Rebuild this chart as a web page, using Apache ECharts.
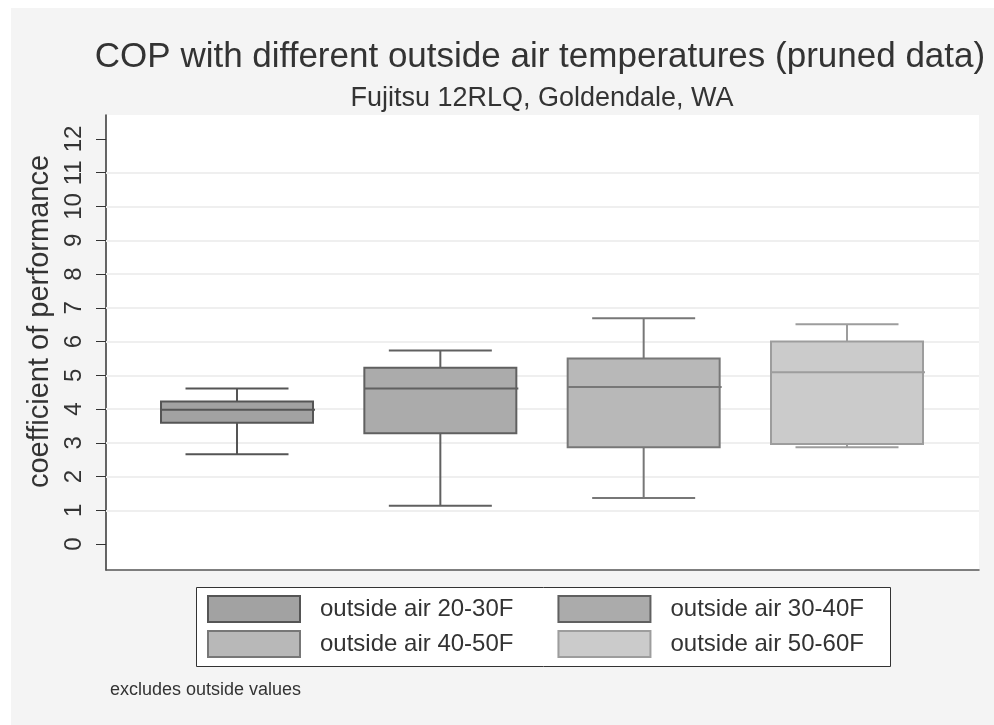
<!DOCTYPE html>
<html>
<head>
<meta charset="utf-8">
<script src="https://cdn.jsdelivr.net/npm/echarts@6/dist/echarts.min.js"></script>
<style>
html,body{margin:0;padding:0;background:#fff;}
#chart{width:994px;height:725px;}
</style>
</head>
<body>
<div id="chart"></div>
<script>
// ---- data ----
const categories = ['outside air 20-30F', 'outside air 30-40F', 'outside air 40-50F', 'outside air 50-60F'];
const lowerWhisker = [2.66, 1.13, 1.36, 2.87];
const lowerQuartile = [3.59, 3.28, 2.87, 2.96];
const medianValues = [3.98, 4.61, 4.65, 5.09];
const upperQuartile = [4.22, 5.22, 5.50, 6.00];
const upperWhisker = [4.61, 5.73, 6.69, 6.51];
const yTickValues = [0, 1, 2, 3, 4, 5, 6, 7, 8, 9, 10, 11, 12];
const gridValues = [1, 2, 3, 4, 5, 6, 7, 8, 9, 10, 11];

// ---- styles ----
const fills = ['#a2a2a2', '#ababab', '#b8b8b8', '#cbcbcb'];
const strokes = ['#555555', '#606060', '#777777', '#9d9d9d'];
const FONT = 'Liberation Sans, Arial, sans-serif';

const chart = echarts.init(document.getElementById('chart'), null, {renderer: 'canvas'});

function makeRender(idx) {
  return function (params, api) {
    const x = api.value(0);
    const lw = api.coord([x, api.value(1)]);
    const q1 = api.coord([x, api.value(2)]);
    const md = api.coord([x, api.value(3)]);
    const q3 = api.coord([x, api.value(4)]);
    const uw = api.coord([x, api.value(5)]);
    const cx = lw[0];
    const half = 76, cap = 51.5;
    const ls = {stroke: strokes[idx], lineWidth: 2, fill: null};
    return {
      type: 'group',
      children: [
        {type: 'line', shape: {x1: cx, y1: uw[1], x2: cx, y2: q3[1]}, style: ls},
        {type: 'line', shape: {x1: cx, y1: q1[1], x2: cx, y2: lw[1]}, style: ls},
        {type: 'line', shape: {x1: cx - cap, y1: uw[1], x2: cx + cap, y2: uw[1]}, style: ls},
        {type: 'line', shape: {x1: cx - cap, y1: lw[1], x2: cx + cap, y2: lw[1]}, style: ls},
        {type: 'rect', shape: {x: cx - half, y: q3[1], width: half * 2, height: q1[1] - q3[1]},
          style: {fill: fills[idx], stroke: strokes[idx], lineWidth: 2}},
        {type: 'line', shape: {x1: cx - half, y1: md[1], x2: cx + half + 2, y2: md[1]}, style: ls}
      ]
    };
  };
}

const boxSeries = categories.map(function (name, i) {
  return {
    name: name,
    type: 'custom',
    z: 10,
    renderItem: makeRender(i),
    itemStyle: {color: fills[i], borderColor: strokes[i], borderWidth: 2},
    encode: {x: 0, y: [1, 2, 3, 4, 5]},
    data: [[i + 1, lowerWhisker[i], lowerQuartile[i], medianValues[i], upperQuartile[i], upperWhisker[i]]],
    animation: false
  };
});

const gridSeries = {
  name: 'grid',
  type: 'line',
  z: 1,
  data: [],
  silent: true,
  markLine: {
    silent: true,
    z: 1,
    symbol: ['none', 'none'],
    label: {show: false},
    animation: false,
    lineStyle: {type: 'solid', color: '#efefef', width: 2},
    data: gridValues.map(function (v) { return {yAxis: v}; })
  }
};

function legendItems(names, offset) {
  return names.map(function (n, k) {
    const i = offset + k;
    return {name: n, icon: 'rect', itemStyle: {color: fills[i], borderColor: strokes[i], borderWidth: 2}};
  });
}

const legendText = {fontFamily: FONT, fontSize: 24, color: '#333', padding: [0, 0, 0, 15]};

const option = {
  backgroundColor: '#f4f4f4',
  animation: false,
  title: [
    {text: 'COP with different outside air temperatures (pruned data)', left: 535, top: 35, textAlign: 'center',
      textStyle: {fontFamily: FONT, fontSize: 35, fontWeight: 'normal', color: '#333'}},
    {text: 'Fujitsu 12RLQ, Goldendale, WA', left: 537, top: 80, textAlign: 'center',
      textStyle: {fontFamily: FONT, fontSize: 27, fontWeight: 'normal', color: '#333'}}
  ],
  graphic: [
    {type: 'rect', left: 0, top: 0, shape: {width: 11, height: 725}, style: {fill: '#ffffff'}},
    {type: 'rect', left: 0, top: 0, shape: {width: 994, height: 8}, style: {fill: '#ffffff'}},
    {type: 'rect', left: 196, top: 587, z: 0, shape: {width: 694, height: 79}, style: {fill: '#ffffff', stroke: '#333', lineWidth: 1}},
    {type: 'text', left: 110, top: 681, style: {text: 'excludes outside values', fontFamily: FONT, fontSize: 18, fill: '#333'}}
  ],
  grid: {left: 106, right: 15, top: 115, bottom: 155, show: true, backgroundColor: '#ffffff', borderWidth: 0},
  xAxis: {
    type: 'value', min: 0.3557, max: 4.6492,
    axisLine: {show: true, onZero: false, lineStyle: {color: '#555', width: 1.5}},
    axisTick: {show: false}, axisLabel: {show: false}, splitLine: {show: false}
  },
  yAxis: {
    type: 'value', min: -0.77, max: 12.711,
    name: 'coefficient of performance', nameLocation: 'middle', nameRotate: 90, nameGap: 35,
    nameTextStyle: {fontFamily: FONT, fontSize: 29, color: '#333', padding: [0, 0, 0, 42]},
    axisLine: {show: true, onZero: false, lineStyle: {color: '#333', width: 1.5}},
    axisTick: {show: true, length: 10, customValues: yTickValues, lineStyle: {color: '#333'}},
    axisLabel: {show: true, rotate: 90, margin: 20, customValues: yTickValues,
      fontFamily: FONT, fontSize: 24, color: '#333'},
    splitLine: {show: false}
  },
  legend: [
    {data: legendItems(categories.slice(0, 2), 0), left: 202, top: 590, orient: 'horizontal', padding: 5,
      itemWidth: 92, itemHeight: 26, itemGap: 44, textStyle: legendText, selectedMode: false, z: 5},
    {data: legendItems(categories.slice(2, 4), 2), left: 202, top: 625, orient: 'horizontal', padding: 5,
      itemWidth: 92, itemHeight: 26, itemGap: 44, textStyle: legendText, selectedMode: false, z: 5}
  ],
  series: [gridSeries].concat(boxSeries)
};
chart.setOption(option);
</script>
</body>
</html>
